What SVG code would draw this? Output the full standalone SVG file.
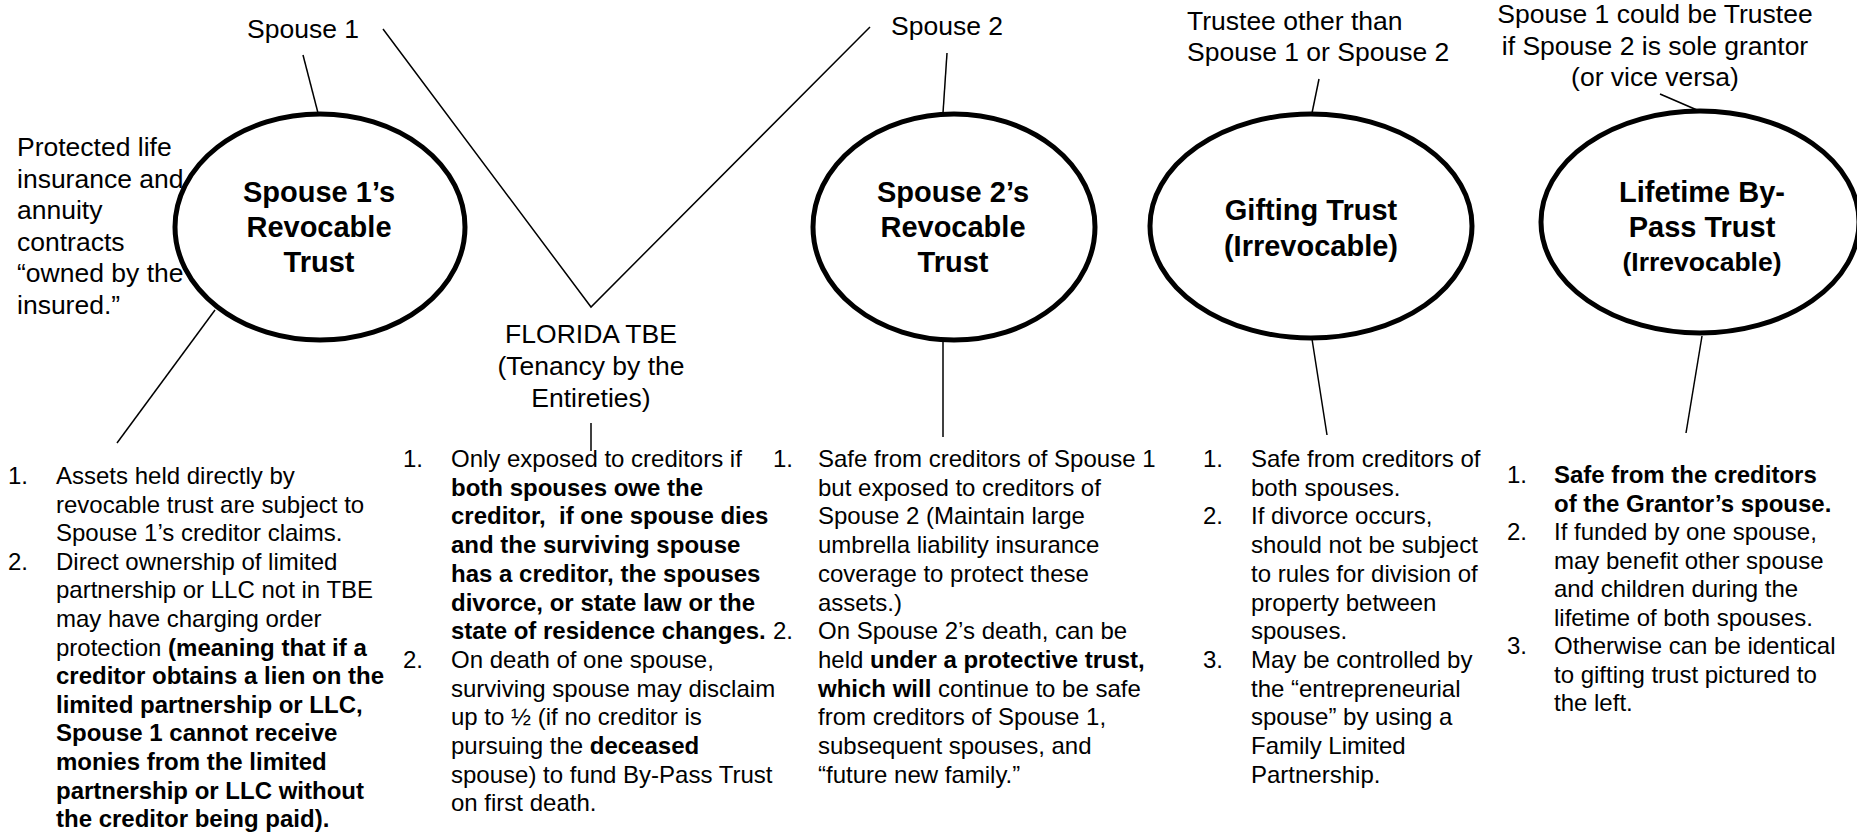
<svg xmlns="http://www.w3.org/2000/svg" width="1857" height="834" viewBox="0 0 1857 834">
<style>
text{font-family:"Liberation Sans",Arial,sans-serif;fill:#000}
.lbl{font-size:26.5px}
.lblc{font-size:26.5px;text-anchor:middle}
.nt{font-size:29px;font-weight:bold;text-anchor:middle}
.nts{font-size:26.5px;font-weight:bold;text-anchor:middle}
.lst{font-size:24px}
.b{font-weight:bold}
.node ellipse{fill:#fff;stroke:#000;stroke-width:5}
#connectors line,#connectors polyline{stroke:#000;stroke-width:1.5;fill:none}
</style>
<rect width="1857" height="834" fill="#fff"/>
<g id="connectors">
<line x1="303" y1="55" x2="318" y2="113"/>
<line x1="215" y1="310" x2="117" y2="443"/>
<polyline points="383,29 591,307 870,27"/>
<line x1="591" y1="423" x2="591" y2="451"/>
<line x1="947" y1="53" x2="943" y2="113"/>
<line x1="943" y1="340" x2="943" y2="437"/>
<line x1="1319" y1="79" x2="1312" y2="113"/>
<line x1="1312" y1="339" x2="1327" y2="435"/>
<line x1="1660" y1="94" x2="1697" y2="110"/>
<line x1="1702" y1="336" x2="1686" y2="433"/>
</g>
<g id="spouse1-trust" class="node">
<ellipse cx="320" cy="227" rx="145" ry="113"/>
<text class="nt"><tspan x="319" y="202">Spouse 1’s</tspan><tspan x="319" y="237">Revocable</tspan><tspan x="319" y="272">Trust</tspan></text>
</g>
<g id="spouse2-trust" class="node">
<ellipse cx="954" cy="227" rx="141" ry="113"/>
<text class="nt"><tspan x="953" y="202">Spouse 2’s</tspan><tspan x="953" y="237">Revocable</tspan><tspan x="953" y="272">Trust</tspan></text>
</g>
<g id="gifting-trust" class="node">
<ellipse cx="1311" cy="226" rx="161" ry="112"/>
<text class="nt"><tspan x="1311" y="220">Gifting Trust</tspan><tspan x="1311" y="255.5">(Irrevocable)</tspan></text>
</g>
<g id="bypass-trust" class="node">
<ellipse cx="1700" cy="222" rx="159" ry="111"/>
<text class="nt"><tspan x="1702" y="201.5">Lifetime By-</tspan><tspan x="1702" y="236.5">Pass Trust</tspan></text>
<text class="nts" x="1702" y="270.5">(Irrevocable)</text>
</g>
<g id="spouse1-label"><text class="lbl" x="247" y="38">Spouse 1</text></g>
<g id="spouse2-label"><text class="lbl" x="891" y="35">Spouse 2</text></g>
<g id="tbe-label"><text class="lblc"><tspan x="591" y="342.5">FLORIDA TBE</tspan><tspan x="591" y="374.5">(Tenancy by the</tspan><tspan x="591" y="406.5">Entireties)</tspan></text></g>
<g id="insurance-label"><text class="lbl"><tspan x="17" y="156">Protected life</tspan><tspan x="17" y="187.5">insurance and</tspan><tspan x="17" y="219">annuity</tspan><tspan x="17" y="250.5">contracts</tspan><tspan x="17" y="282">“owned by the</tspan><tspan x="17" y="313.5">insured.”</tspan></text></g>
<g id="trustee-label"><text class="lbl"><tspan x="1187" y="29.5">Trustee other than</tspan><tspan x="1187" y="60.5">Spouse 1 or Spouse 2</tspan></text></g>
<g id="trustee2-label"><text class="lblc"><tspan x="1655" y="23">Spouse 1 could be Trustee</tspan><tspan x="1655" y="54.5">if Spouse 2 is sole grantor</tspan><tspan x="1655" y="86">(or vice versa)</tspan></text></g>
<g id="list-spouse1">
<text class="lst">
<tspan x="8" y="484">1.</tspan><tspan x="56" y="484">Assets held directly by</tspan>
<tspan x="56" y="512.6">revocable trust are subject to</tspan>
<tspan x="56" y="541.2">Spouse 1’s creditor claims.</tspan>
<tspan x="8" y="569.8">2.</tspan><tspan x="56" y="569.8">Direct ownership of limited</tspan>
<tspan x="56" y="598.4">partnership or LLC not in TBE</tspan>
<tspan x="56" y="627">may have charging order</tspan>
<tspan x="56" y="655.6">protection <tspan class="b">(meaning that if a</tspan></tspan>
<tspan class="b" x="56" y="684.2">creditor obtains a lien on the</tspan>
<tspan class="b" x="56" y="712.8">limited partnership or LLC,</tspan>
<tspan class="b" x="56" y="741.4">Spouse 1 cannot receive</tspan>
<tspan class="b" x="56" y="770">monies from the limited</tspan>
<tspan class="b" x="56" y="798.6">partnership or LLC without</tspan>
<tspan class="b" x="56" y="827.2">the creditor being paid).</tspan>
</text>
</g>
<g id="list-tbe">
<text class="lst">
<tspan x="403" y="467">1.</tspan><tspan x="451" y="467">Only exposed to creditors if</tspan>
<tspan class="b" x="451" y="495.7">both spouses owe the</tspan>
<tspan class="b" x="451" y="524.4">creditor,&#160; if one spouse dies</tspan>
<tspan class="b" x="451" y="553.1">and the surviving spouse</tspan>
<tspan class="b" x="451" y="581.8">has a creditor, the spouses</tspan>
<tspan class="b" x="451" y="610.5">divorce, or state law or the</tspan>
<tspan class="b" x="451" y="639.2">state of residence changes.</tspan>
<tspan x="403" y="667.9">2.</tspan><tspan x="451" y="667.9">On death of one spouse,</tspan>
<tspan x="451" y="696.6">surviving spouse may disclaim</tspan>
<tspan x="451" y="725.3">up to ½ (if no creditor is</tspan>
<tspan x="451" y="754">pursuing the <tspan class="b">deceased</tspan></tspan>
<tspan x="451" y="782.7">spouse) to fund By-Pass Trust</tspan>
<tspan x="451" y="811.4">on first death.</tspan>
</text>
</g>
<g id="list-spouse2">
<text class="lst">
<tspan x="773" y="467">1.</tspan><tspan x="818" y="467">Safe from creditors of Spouse 1</tspan>
<tspan x="818" y="495.7">but exposed to creditors of</tspan>
<tspan x="818" y="524.4">Spouse 2 (Maintain large</tspan>
<tspan x="818" y="553.1">umbrella liability insurance</tspan>
<tspan x="818" y="581.8">coverage to protect these</tspan>
<tspan x="818" y="610.5">assets.)</tspan>
<tspan x="773" y="639.2">2.</tspan><tspan x="818" y="639.2">On Spouse 2’s death, can be</tspan>
<tspan x="818" y="667.9">held <tspan class="b">under a protective trust,</tspan></tspan>
<tspan x="818" y="696.6"><tspan class="b">which will</tspan> continue to be safe</tspan>
<tspan x="818" y="725.3">from creditors of Spouse 1,</tspan>
<tspan x="818" y="754">subsequent spouses, and</tspan>
<tspan x="818" y="782.7">“future new family.”</tspan>
</text>
</g>
<g id="list-gifting">
<text class="lst">
<tspan x="1203" y="467">1.</tspan><tspan x="1251" y="467">Safe from creditors of</tspan>
<tspan x="1251" y="495.7">both spouses.</tspan>
<tspan x="1203" y="524.4">2.</tspan><tspan x="1251" y="524.4">If divorce occurs,</tspan>
<tspan x="1251" y="553.1">should not be subject</tspan>
<tspan x="1251" y="581.8">to rules for division of</tspan>
<tspan x="1251" y="610.5">property between</tspan>
<tspan x="1251" y="639.2">spouses.</tspan>
<tspan x="1203" y="667.9">3.</tspan><tspan x="1251" y="667.9">May be controlled by</tspan>
<tspan x="1251" y="696.6">the “entrepreneurial</tspan>
<tspan x="1251" y="725.3">spouse” by using a</tspan>
<tspan x="1251" y="754">Family Limited</tspan>
<tspan x="1251" y="782.7">Partnership.</tspan>
</text>
</g>
<g id="list-bypass">
<text class="lst">
<tspan x="1507" y="483.3">1.</tspan><tspan class="b" x="1554" y="483.3">Safe from the creditors</tspan>
<tspan class="b" x="1554" y="511.8">of the Grantor’s spouse.</tspan>
<tspan x="1507" y="540.3">2.</tspan><tspan x="1554" y="540.3">If funded by one spouse,</tspan>
<tspan x="1554" y="568.8">may benefit other spouse</tspan>
<tspan x="1554" y="597.3">and children during the</tspan>
<tspan x="1554" y="625.8">lifetime of both spouses.</tspan>
<tspan x="1507" y="654.3">3.</tspan><tspan x="1554" y="654.3">Otherwise can be identical</tspan>
<tspan x="1554" y="682.8">to gifting trust pictured to</tspan>
<tspan x="1554" y="711.3">the left.</tspan>
</text>
</g>
</svg>
